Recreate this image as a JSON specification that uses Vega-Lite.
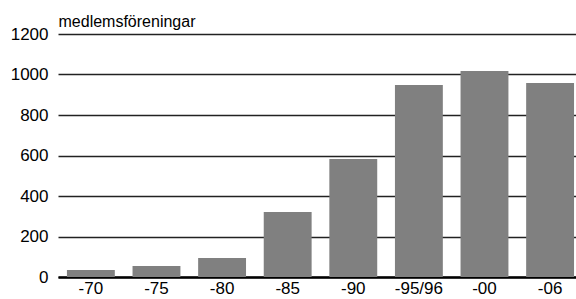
{
  "$schema": "https://vega.github.io/schema/vega-lite/v6.json",
  "width": 518,
  "height": 243,
  "autosize": {"type": "none"},
  "padding": {"left": 58, "top": 34, "right": 0, "bottom": 22},
  "background": "white",
  "config": {
    "view": {"stroke": null},
    "font": "Liberation Sans, sans-serif"
  },
  "data": {
    "values": [
      {"period": "-70", "count": 35},
      {"period": "-75", "count": 54},
      {"period": "-80", "count": 94},
      {"period": "-85", "count": 321},
      {"period": "-90", "count": 583},
      {"period": "-95/96", "count": 948},
      {"period": "-00", "count": 1017},
      {"period": "-06", "count": 958}
    ]
  },
  "mark": {"type": "bar", "color": "#808080"},
  "encoding": {
    "x": {
      "field": "period",
      "type": "nominal",
      "sort": null,
      "scale": {"paddingInner": 0.27, "paddingOuter": 0.083, "align": 0.82},
      "axis": {
        "title": null,
        "labelAngle": 0,
        "labelFontSize": 17,
        "labelColor": "black",
        "ticks": false,
        "domain": true,
        "domainColor": "black",
        "domainWidth": 2.5,
        "labelPadding": 3
      }
    },
    "y": {
      "field": "count",
      "type": "quantitative",
      "scale": {"domain": [0, 1200]},
      "axis": {
        "values": [0, 200, 400, 600, 800, 1000, 1200],
        "format": "d",
        "title": "medlemsföreningar",
        "titleAngle": 0,
        "titleAlign": "left",
        "titleBaseline": "bottom",
        "titleX": 0,
        "titleY": -5,
        "titleFontSize": 16,
        "titleFontWeight": "normal",
        "titleColor": "black",
        "labelFontSize": 17,
        "labelColor": "black",
        "labelPadding": 10,
        "ticks": false,
        "domain": false,
        "grid": true,
        "gridColor": "#222222",
        "gridWidth": 1.5
      }
    }
  }
}
